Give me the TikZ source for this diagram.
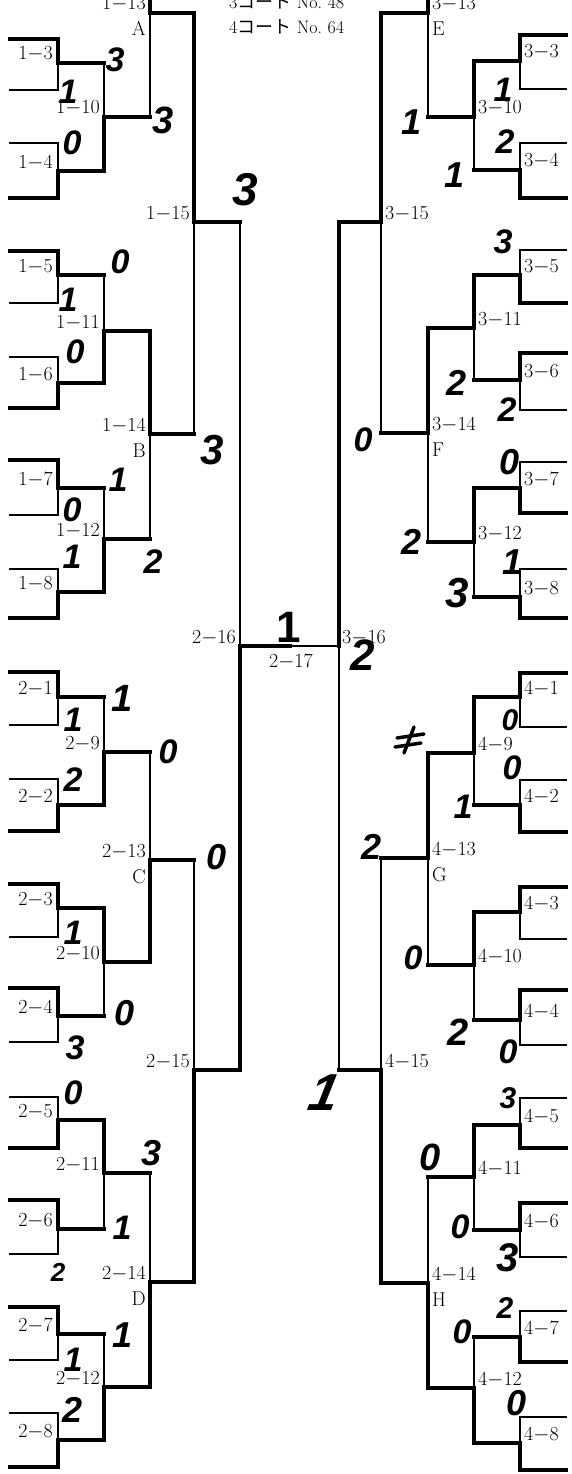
\documentclass[tikz,border=0pt]{standalone}
\usepackage{fontspec}
\newfontfamily\cjk{Noto Sans CJK JP}
\newfontfamily\hand{Liberation Sans}
\tikzset{
  thn/.style={line width=1.3pt, line cap=rect},
  thk/.style={line width=4pt, line cap=rect, line join=miter},
  lbl/.style={inner sep=0pt, font=\fontsize{20}{24}\selectfont},
  hdr/.style={inner sep=0pt, font=\fontsize{18}{22}\selectfont},
  hw/.style={inner sep=0pt, font=\hand\bfseries\itshape\fontsize{34}{40}\selectfont},
  hws/.style={inner sep=0pt, font=\hand\bfseries\itshape\fontsize{#1}{#1}\selectfont},
  scrib/.style={line width=3.5pt, line cap=round}
}
% first-round match: #1 xstart, #2 V, #3 T, #4 B, #5 O, #6 X, #7 t/b
\newcommand\bkFR[7]{%
  \if#7t
    \draw[thk] (#1,#3) -- (#2,#3) -- (#2,#5) -- (#6,#5);
    \draw[thn] (#1,#4) -- (#2,#4) -- (#2,#5);
  \else
    \draw[thk] (#1,#4) -- (#2,#4) -- (#2,#5) -- (#6,#5);
    \draw[thn] (#1,#3) -- (#2,#3) -- (#2,#5);
  \fi}
% later match: #1 V, #2 T, #3 B, #4 O, #5 X, #6 t/b
\newcommand\bkMT[6]{%
  \if#6t
    \draw[thk] (#1,#2) -- (#1,#4) -- (#5,#4);
    \draw[thn] (#1,#4) -- (#1,#3);
  \else
    \draw[thk] (#1,#3) -- (#1,#4) -- (#5,#4);
    \draw[thn] (#1,#4) -- (#1,#2);
  \fi}
\newcommand\bkLF[7]{\bkFR{10}{58}{#3}{#4}{#5}{#6}{#7}%
  \node[lbl,anchor=base east] (n#1-#2) at (53,#5-3) {#1$-$#2};}
\newcommand\bkRF[7]{\bkFR{566}{520}{#3}{#4}{#5}{#6}{#7}%
  \node[lbl,anchor=base west] (n#1-#2) at (524,#5-3) {#1$-$#2};}
\newcommand\bkLM[8]{\bkMT{#3}{#4}{#5}{#6}{#7}{#8}%
  \node[lbl,anchor=base east] (n#1-#2) at (#3-4,#6-3) {#1$-$#2};}
\newcommand\bkRM[8]{\bkMT{#3}{#4}{#5}{#6}{#7}{#8}%
  \node[lbl,anchor=base west] (n#1-#2) at (#3+4,#6-3) {#1$-$#2};}
\begin{document}
\begin{tikzpicture}[x=1pt,y=-1pt]
\path[use as bounding box, fill=white] (0,0) rectangle (571,1474);

% header
\node[hdr,anchor=base west] (h1) at (229,9) {3{\cjk コート} No.\ 48};
\node[hdr,anchor=base west] (h2) at (229,34) {4{\cjk コート} No.\ 64};

% ---------- left first round ----------
\bkLF{1}{3}{39}{90}{63}{104}{t}
\bkLF{1}{4}{143}{198}{171}{104}{b}
\bkLF{1}{5}{251}{303}{275}{104}{t}
\bkLF{1}{6}{357}{408}{383}{104}{b}
\bkLF{1}{7}{460}{515}{488}{104}{t}
\bkLF{1}{8}{569}{618}{592}{104}{b}
\bkLF{2}{1}{672}{725}{697}{104}{t}
\bkLF{2}{2}{779}{831}{805}{104}{b}
\bkLF{2}{3}{884}{937}{908}{104}{t}
\bkLF{2}{4}{988}{1042}{1016}{104}{t}
\bkLF{2}{5}{1097}{1148}{1120}{104}{b}
\bkLF{2}{6}{1200}{1254}{1229}{104}{t}
\bkLF{2}{7}{1307}{1360}{1334}{104}{t}
\bkLF{2}{8}{1413}{1467}{1440}{104}{b}
% left second round
\bkLM{1}{10}{104}{63}{171}{117}{150}{b}
\bkLM{1}{11}{104}{275}{383}{331}{150}{b}
\bkLM{1}{12}{104}{488}{592}{539}{150}{b}
\bkLM{2}{9}{104}{697}{805}{752}{150}{b}
\bkLM{2}{10}{104}{908}{1016}{962}{150}{t}
\bkLM{2}{11}{104}{1120}{1229}{1173}{150}{t}
\bkLM{2}{12}{104}{1334}{1440}{1387}{150}{b}
% left third round
\bkLM{1}{13}{150}{-91}{117}{13}{194}{t}
\bkLM{1}{14}{150}{331}{539}{434}{194}{t}
\bkLM{2}{13}{150}{752}{962}{860}{194}{b}
\bkLM{2}{14}{150}{1173}{1387}{1282}{194}{b}
% left fourth round
\bkLM{1}{15}{194}{13}{434}{222}{240}{t}
\bkLM{2}{15}{194}{860}{1282}{1070}{240}{b}
% semi-final left
\bkLM{2}{16}{240}{222}{1070}{646}{290}{b}

% ---------- right first round ----------
\bkRF{3}{3}{35}{89}{61}{474}{t}
\bkRF{3}{4}{143}{198}{170}{474}{b}
\bkRF{3}{5}{250}{303}{275}{474}{b}
\bkRF{3}{6}{353}{410}{380}{474}{t}
\bkRF{3}{7}{462}{513}{488}{474}{b}
\bkRF{3}{8}{569}{618}{597}{474}{b}
\bkRF{4}{1}{673}{727}{697}{474}{t}
\bkRF{4}{2}{780}{832}{805}{474}{b}
\bkRF{4}{3}{887}{939}{912}{474}{t}
\bkRF{4}{4}{990}{1045}{1020}{474}{t}
\bkRF{4}{5}{1098}{1148}{1125}{474}{b}
\bkRF{4}{6}{1203}{1257}{1230}{474}{t}
\bkRF{4}{7}{1311}{1362}{1337}{474}{b}
\bkRF{4}{8}{1417}{1470}{1443}{474}{b}
% right second round
\bkRM{3}{10}{474}{61}{170}{117}{428}{t}
\bkRM{3}{11}{474}{275}{380}{328}{428}{t}
\bkRM{3}{12}{474}{488}{597}{542}{428}{t}
\bkRM{4}{9}{474}{697}{805}{753}{428}{t}
\bkRM{4}{10}{474}{912}{1020}{965}{428}{t}
\bkRM{4}{11}{474}{1125}{1230}{1177}{428}{t}
\bkRM{4}{12}{474}{1337}{1443}{1388}{428}{b}
% right third round
\bkRM{3}{13}{428}{-91}{117}{13}{381}{t}
\bkRM{3}{14}{428}{328}{542}{433}{381}{t}
\bkRM{4}{13}{428}{753}{965}{858}{381}{t}
\bkRM{4}{14}{428}{1177}{1388}{1283}{381}{b}
% right fourth round
\bkRM{3}{15}{381}{13}{433}{222}{339}{t}
\bkRM{4}{15}{381}{858}{1283}{1070}{339}{b}
% semi-final right
\draw[thk] (339,222) -- (339,646);
\draw[thn] (339,646) -- (339,1070);
\draw[thn] (339,646) -- (290,646);
\node[lbl,anchor=base west] (n3-16) at (342,643) {3$-$16};
% final label
\node[lbl,anchor=base] (n2-17) at (291,667) {2$-$17};

% block letters
\node[lbl,anchor=base east] (lA) at (146,36) {A};
\node[lbl,anchor=base east] (lB) at (146,457) {B};
\node[lbl,anchor=base east] (lC) at (146,883) {C};
\node[lbl,anchor=base east] (lD) at (146,1305) {D};
\node[lbl,anchor=base west] (lE) at (432,36) {E};
\node[lbl,anchor=base west] (lF) at (432,456) {F};
\node[lbl,anchor=base west] (lG) at (432,881) {G};
\node[lbl,anchor=base west] (lH) at (432,1306) {H};

% ---------- handwritten scores, left ----------
\node[hw] (s1) at (115,60) {3};
\node[hw] (s2) at (68,92) {1};
\node[hws=38] (s3) at (163,120) {3};
\node[hw] (s4) at (72,143) {0};
\node[hws=46] (s5) at (245,190) {3};
\node[hw] (s6) at (120,262) {0};
\node[hw] (s7) at (68,300) {1};
\node[hw] (s8) at (75,352) {0};
\node[hws=42] (s9) at (212,450) {3};
\node[hw] (s10) at (118,480) {1};
\node[hw] (s11) at (72,510) {0};
\node[hw] (s12) at (72,557) {1};
\node[hw] (s13) at (153,562) {2};
\node[inner sep=0pt, font=\hand\bfseries\fontsize{44}{44}\selectfont] (s14) at (289,627) {1};
\node[hws=38] (s15) at (122,698) {1};
\node[hw] (s16) at (73,720) {1};
\node[hw] (s17) at (73,780) {2};
\node[hw] (s18) at (168,752) {0};
\node[hws=36] (s19) at (217,857) {0};
\node[hw] (s20) at (73,933) {1};
\node[hws=36] (s21) at (125,1013) {0};
\node[hw] (s22) at (75,1048) {3};
\node[hw] (s23) at (73,1093) {0};
\node[hws=36] (s24) at (152,1153) {3};
\node[hw] (s25) at (122,1228) {1};
\node[hws=26] (s26) at (58,1272) {2};
\node[hws=36] (s27) at (123,1335) {1};
\node[hw] (s28) at (73,1360) {1};
\node[hws=36] (s29) at (73,1410) {2};

% ---------- handwritten scores, right ----------
\node[hw] (s30) at (503,90) {1};
\node[hws=36] (s31) at (412,122) {1};
\node[hw] (s32) at (505,142) {2};
\node[hws=36] (s33) at (455,175) {1};
\node[hw] (s34) at (503,242) {3};
\node[hws=36] (s35) at (457,383) {2};
\node[hw] (s36) at (507,410) {2};
\node[hw] (s37) at (363,440) {0};
\node[hws=36] (s38) at (510,462) {0};
\node[hws=36] (s39) at (412,542) {2};
\node[hws=36] (s40) at (513,562) {1};
\node[hws=42] (s41) at (457,593) {3};
\node[hws=44] (s42) at (363,655) {2};
\node[hws=30] (s43) at (510,720) {0};
\draw[scrib] (397,738) -- (424,734) (395,747) -- (421,743) (404,753) -- (414,727);
\node[hw] (s45) at (512,768) {0};
\node[hw] (s46) at (463,807) {1};
\node[hws=36] (s47) at (372,847) {2};
\node[hw] (s48) at (413,958) {0};
\node[hws=38] (s49) at (458,1032) {2};
\node[hw] (s50) at (508,1052) {0};
\node[inner sep=0pt, xslant=0.2, font=\hand\bfseries\itshape\fontsize{52}{52}\selectfont] (s51) at (325,1093) {1};
\node[hws=30] (s52) at (508,1098) {3};
\node[hws=38] (s53) at (430,1157) {0};
\node[hw] (s54) at (460,1227) {0};
\node[hws=40] (s55) at (508,1258) {3};
\node[hw] (s56) at (462,1332) {0};
\node[hws=30] (s57) at (505,1308) {2};
\node[hws=36] (s58) at (517,1403) {0};
\end{tikzpicture}
\end{document}
